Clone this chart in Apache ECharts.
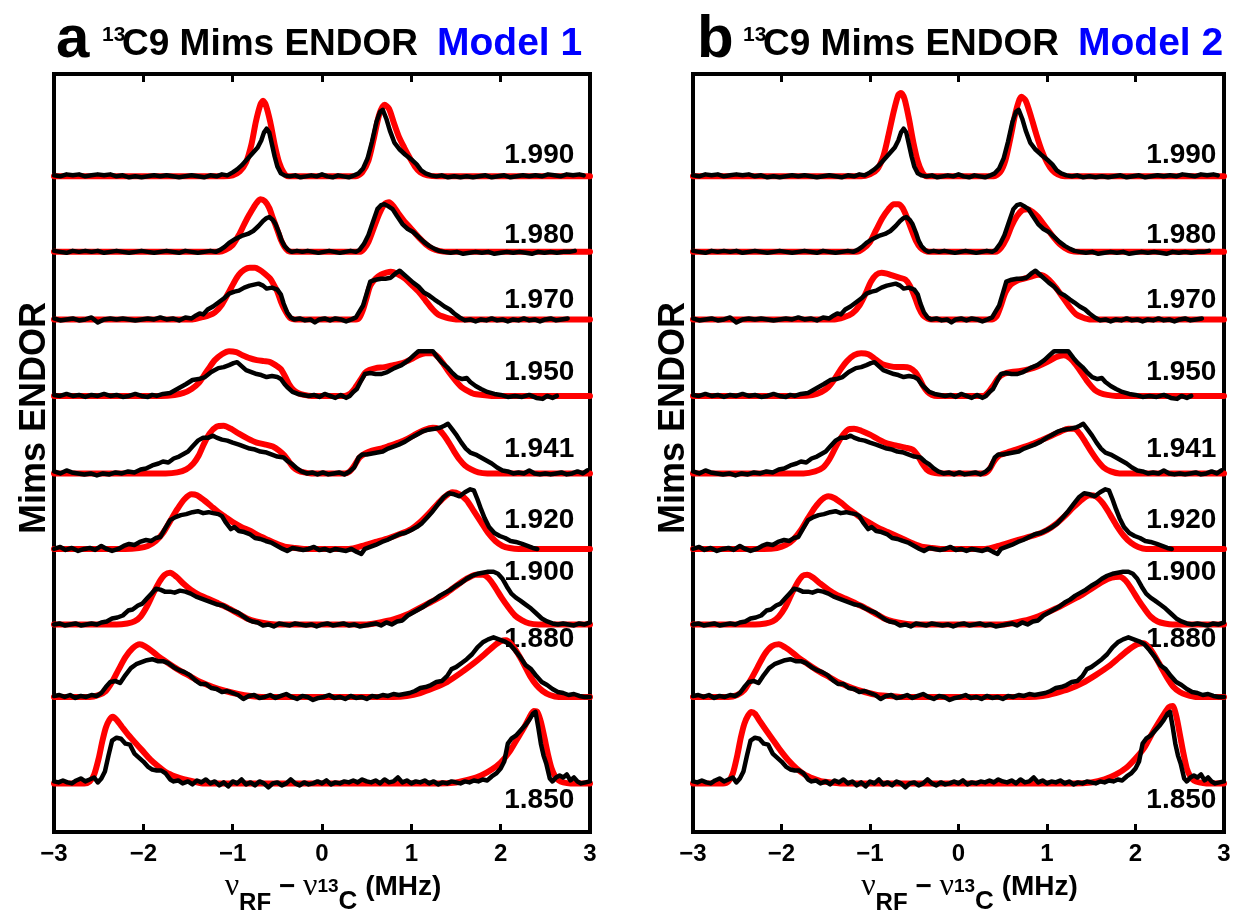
<!DOCTYPE html>
<html>
<head>
<meta charset="utf-8">
<script src="https://cdn.jsdelivr.net/npm/echarts/dist/echarts.min.js"></script>
<style>
  html, body { margin: 0; padding: 0; background: #fff; }
  #chart { width: 1238px; height: 920px; }
</style>
</head>
<body>
<div id="chart"></div>
<script>
// ---------------- DATA ----------------
const gValues = ['1.990', '1.980', '1.970', '1.950', '1.941', '1.920', '1.900', '1.880', '1.850'];
const traceBaselines = [660, 584, 516, 439, 361, 285, 209, 136, 49];
const xTicks = [-3, -2, -1, 0, 1, 2, 3];

// Experimental (black) spectra: [nu, intensity]
const exp1990 = [[-3,1],[-2.93,0],[-2.86,2],[-2.79,1],[-2.72,2],[-2.65,0],[-2.58,1],[-2.51,2],[-2.44,1],[-2.37,2],[-2.3,0],[-2.23,1],[-2.16,-1],[-2.09,0],[-2.02,-1],[-1.95,0],[-1.88,1],[-1.81,0],[-1.74,1],[-1.67,0],[-1.6,-1],[-1.53,0],[-1.46,1],[-1.39,0],[-1.32,-1],[-1.25,1],[-1.18,0],[-1.12,2],[-1.06,1],[-1.0,4],[-0.95,7],[-0.9,11],[-0.85,16],[-0.8,21],[-0.76,25],[-0.72,29],[-0.68,36],[-0.65,44],[-0.62,48],[-0.59,44],[-0.56,32],[-0.53,20],[-0.5,10],[-0.46,3],[-0.42,1],[-0.36,0],[-0.3,1],[-0.24,-1],[-0.18,0],[-0.12,1],[-0.06,0],[0,2],[0.06,0],[0.12,-1],[0.18,1],[0.24,0],[0.3,-1],[0.36,1],[0.41,3],[0.46,8],[0.51,18],[0.56,35],[0.61,55],[0.65,65],[0.68,67],[0.72,58],[0.76,46],[0.81,34],[0.87,27],[0.93,22],[1.0,17],[1.06,12],[1.11,6],[1.16,3],[1.22,1],[1.28,0],[1.34,1],[1.41,-1],[1.48,0],[1.55,-1],[1.62,0],[1.69,-1],[1.76,0],[1.83,1],[1.9,-1],[1.97,0],[2.04,1],[2.11,-1],[2.18,0],[2.25,1],[2.32,0],[2.39,1],[2.46,0],[2.53,2],[2.6,1],[2.67,0],[2.74,2],[2.81,1],[2.88,2],[2.93,1]];
const exp1980 = [[-3,1],[-2.93,0],[-2.86,-1],[-2.79,1],[-2.72,0],[-2.65,1],[-2.58,0],[-2.51,1],[-2.44,-1],[-2.37,0],[-2.3,1],[-2.23,0],[-2.16,-1],[-2.09,0],[-2.02,1],[-1.95,0],[-1.88,-1],[-1.81,0],[-1.74,1],[-1.67,0],[-1.6,-1],[-1.53,1],[-1.46,0],[-1.39,-1],[-1.32,0],[-1.25,1],[-1.19,0],[-1.14,2],[-1.09,5],[-1.04,9],[-0.97,13],[-0.9,16],[-0.83,18],[-0.77,21],[-0.71,26],[-0.66,31],[-0.62,34],[-0.59,35],[-0.55,32],[-0.52,28],[-0.48,19],[-0.45,11],[-0.42,6],[-0.38,2],[-0.34,0],[-0.28,1],[-0.22,0],[-0.16,1],[-0.1,0],[-0.04,-1],[0.02,0],[0.08,1],[0.14,0],[0.2,-1],[0.26,0],[0.32,1],[0.38,0],[0.42,2],[0.47,8],[0.52,17],[0.57,30],[0.62,43],[0.66,47],[0.7,48],[0.74,46],[0.79,43],[0.84,36],[0.9,28],[0.96,23],[1.02,20],[1.08,15],[1.14,10],[1.2,6],[1.26,3],[1.31,1],[1.37,0],[1.44,-1],[1.51,0],[1.58,-2],[1.65,-1],[1.72,0],[1.79,-1],[1.86,0],[1.93,-2],[2.0,-1],[2.07,0],[2.14,-1],[2.21,0],[2.28,-1],[2.35,-2],[2.42,0],[2.49,-1],[2.56,0],[2.63,-1],[2.7,0],[2.77,0],[2.83,1]];
const exp1970 = [[-3,1],[-2.93,-1],[-2.86,0],[-2.79,1],[-2.72,-1],[-2.65,0],[-2.58,2],[-2.51,-3],[-2.44,0],[-2.37,1],[-2.3,0],[-2.23,1],[-2.16,0],[-2.09,-1],[-2.02,0],[-1.95,1],[-1.88,0],[-1.81,2],[-1.74,0],[-1.67,1],[-1.6,-1],[-1.53,2],[-1.46,1],[-1.41,4],[-1.37,6],[-1.33,5],[-1.28,10],[-1.22,13],[-1.16,17],[-1.1,21],[-1.04,26],[-0.98,28],[-0.93,29],[-0.87,32],[-0.81,34],[-0.76,35],[-0.71,36],[-0.66,34],[-0.62,31],[-0.56,32],[-0.5,30],[-0.46,25],[-0.43,16],[-0.39,7],[-0.35,2],[-0.31,0],[-0.25,1],[-0.19,-1],[-0.13,0],[-0.08,-3],[-0.03,0],[0.03,1],[0.09,-1],[0.15,1],[0.21,0],[0.27,-2],[0.33,0],[0.38,2],[0.42,8],[0.46,14],[0.5,26],[0.54,38],[0.6,40],[0.66,41],[0.71,41],[0.77,42],[0.82,46],[0.87,49],[0.92,45],[0.97,41],[1.02,37],[1.08,33],[1.14,27],[1.2,24],[1.26,20],[1.31,17],[1.37,13],[1.43,10],[1.48,6],[1.54,2],[1.6,-1],[1.66,0],[1.72,-2],[1.78,0],[1.84,-1],[1.9,1],[1.96,-1],[2.02,0],[2.08,-2],[2.14,0],[2.2,-1],[2.26,1],[2.32,-1],[2.38,0],[2.44,-2],[2.5,0],[2.56,1],[2.62,-1],[2.68,0],[2.75,1]];
const exp1950 = [[-3,1],[-2.93,0],[-2.86,2],[-2.79,0],[-2.72,1],[-2.65,-1],[-2.58,1],[-2.51,0],[-2.44,2],[-2.37,0],[-2.3,1],[-2.23,-1],[-2.16,0],[-2.09,2],[-2.02,0],[-1.95,-1],[-1.9,1],[-1.85,0],[-1.78,2],[-1.7,3],[-1.64,6],[-1.58,9],[-1.52,12],[-1.45,16],[-1.38,17],[-1.31,19],[-1.24,24],[-1.16,28],[-1.1,29],[-1.04,31],[-0.99,33],[-0.95,34],[-0.9,30],[-0.85,26],[-0.79,24],[-0.73,22],[-0.68,21],[-0.62,19],[-0.56,20],[-0.5,19],[-0.46,17],[-0.42,12],[-0.39,9],[-0.33,4],[-0.27,2],[-0.21,1],[-0.15,0],[-0.09,1],[-0.03,-1],[0.03,2],[0.09,0],[0.15,-2],[0.21,1],[0.27,-2],[0.31,0],[0.35,4],[0.39,7],[0.43,14],[0.48,22],[0.54,23],[0.6,22],[0.66,22],[0.73,24],[0.81,28],[0.89,31],[0.97,36],[1.03,41],[1.08,45],[1.16,45],[1.24,45],[1.3,38],[1.35,33],[1.4,29],[1.45,24],[1.51,19],[1.57,17],[1.62,18],[1.66,14],[1.72,10],[1.78,7],[1.85,4],[1.93,2],[2.0,1],[2.08,-1],[2.16,0],[2.24,-1],[2.32,1],[2.4,-2],[2.47,-3],[2.52,0],[2.58,-2],[2.63,0]];
const exp1941 = [[-3,2],[-2.93,0],[-2.86,3],[-2.8,1],[-2.73,0],[-2.66,-1],[-2.59,0],[-2.52,-2],[-2.45,0],[-2.38,-1],[-2.31,1],[-2.24,0],[-2.17,2],[-2.1,1],[-2.03,4],[-1.97,5],[-1.9,8],[-1.83,10],[-1.78,12],[-1.72,11],[-1.66,15],[-1.6,17],[-1.54,20],[-1.5,22],[-1.45,27],[-1.39,33],[-1.33,36],[-1.27,36],[-1.22,38],[-1.18,36],[-1.12,34],[-1.06,33],[-1.0,31],[-0.93,29],[-0.87,27],[-0.81,25],[-0.75,24],[-0.69,22],[-0.62,21],[-0.56,19],[-0.5,17],[-0.43,16],[-0.38,12],[-0.33,9],[-0.28,5],[-0.23,2],[-0.17,0],[-0.11,1],[-0.05,-1],[0.01,1],[0.07,-1],[0.13,0],[0.19,1],[0.25,-1],[0.31,2],[0.36,6],[0.41,16],[0.45,19],[0.5,19],[0.56,20],[0.62,21],[0.68,22],[0.74,25],[0.8,27],[0.86,29],[0.93,32],[1.0,36],[1.06,39],[1.12,42],[1.19,44],[1.26,45],[1.32,46],[1.37,48],[1.41,50],[1.46,44],[1.51,38],[1.56,31],[1.61,25],[1.66,21],[1.72,19],[1.78,16],[1.84,13],[1.9,10],[1.96,6],[2.02,3],[2.08,2],[2.14,0],[2.2,1],[2.26,0],[2.32,3],[2.38,0],[2.44,-1],[2.5,0],[2.56,-1],[2.62,0],[2.68,1],[2.74,-1],[2.8,0],[2.86,2],[2.92,0],[2.97,3]];
const exp1920 = [[-3,0],[-2.93,2],[-2.87,-1],[-2.8,1],[-2.73,-2],[-2.66,0],[-2.6,1],[-2.54,-1],[-2.47,3],[-2.41,0],[-2.35,-2],[-2.28,0],[-2.22,3],[-2.16,5],[-2.1,4],[-2.04,7],[-1.97,9],[-1.91,8],[-1.86,11],[-1.81,12],[-1.76,20],[-1.7,29],[-1.64,32],[-1.58,34],[-1.52,35],[-1.45,37],[-1.39,38],[-1.33,36],[-1.27,37],[-1.22,36],[-1.16,35],[-1.12,33],[-1.08,27],[-1.02,20],[-0.98,22],[-0.93,18],[-0.87,17],[-0.81,15],[-0.75,11],[-0.69,10],[-0.63,8],[-0.56,6],[-0.5,3],[-0.44,0],[-0.39,-2],[-0.33,1],[-0.27,0],[-0.21,-1],[-0.15,0],[-0.09,2],[-0.03,-1],[0.03,0],[0.09,-2],[0.15,0],[0.21,-1],[0.27,-2],[0.33,0],[0.39,-3],[0.44,-5],[0.48,0],[0.54,2],[0.6,4],[0.67,7],[0.73,9],[0.8,12],[0.87,15],[0.93,16],[1.0,19],[1.06,22],[1.12,26],[1.18,32],[1.24,38],[1.3,45],[1.36,52],[1.42,56],[1.48,55],[1.54,53],[1.6,57],[1.66,60],[1.7,59],[1.74,50],[1.78,40],[1.82,31],[1.87,22],[1.93,16],[1.99,13],[2.05,11],[2.11,8],[2.17,7],[2.24,5],[2.3,3],[2.36,1],[2.41,0]];
const exp1900 = [[-3,0],[-2.94,1],[-2.88,-1],[-2.82,0],[-2.76,1],[-2.7,-1],[-2.64,0],[-2.58,1],[-2.52,0],[-2.47,2],[-2.41,3],[-2.35,6],[-2.29,7],[-2.23,9],[-2.17,14],[-2.12,15],[-2.06,19],[-2.01,21],[-1.96,26],[-1.91,31],[-1.86,36],[-1.81,35],[-1.76,33],[-1.7,33],[-1.65,32],[-1.59,34],[-1.53,33],[-1.47,31],[-1.41,28],[-1.35,26],[-1.29,24],[-1.23,22],[-1.17,20],[-1.11,19],[-1.05,16],[-1.0,14],[-0.94,12],[-0.88,8],[-0.83,5],[-0.78,3],[-0.72,2],[-0.66,-1],[-0.6,0],[-0.54,-2],[-0.48,1],[-0.42,0],[-0.36,-1],[-0.3,1],[-0.24,0],[-0.18,-1],[-0.12,0],[-0.06,-2],[0,0],[0.06,1],[0.12,-1],[0.18,0],[0.24,1],[0.3,-1],[0.36,0],[0.42,-2],[0.48,-1],[0.54,0],[0.6,1],[0.66,-1],[0.72,2],[0.78,0],[0.84,3],[0.9,4],[0.96,9],[1.02,12],[1.08,15],[1.14,18],[1.2,22],[1.26,25],[1.32,29],[1.38,32],[1.44,35],[1.5,39],[1.56,42],[1.62,46],[1.68,49],[1.74,51],[1.8,52],[1.86,53],[1.92,53],[1.97,51],[2.02,46],[2.07,38],[2.12,31],[2.17,27],[2.22,24],[2.28,20],[2.34,16],[2.4,11],[2.46,6],[2.52,3],[2.58,1],[2.64,0],[2.7,1],[2.76,0],[2.82,-1],[2.88,1],[2.94,0],[3.0,2]];
const exp1880 = [[-3,1],[-2.94,2],[-2.88,0],[-2.82,2],[-2.76,-1],[-2.7,1],[-2.64,0],[-2.58,2],[-2.52,1],[-2.47,4],[-2.42,10],[-2.37,15],[-2.31,16],[-2.26,14],[-2.2,22],[-2.14,29],[-2.08,33],[-2.02,35],[-1.96,37],[-1.9,38],[-1.84,36],[-1.78,36],[-1.72,34],[-1.66,30],[-1.6,27],[-1.54,25],[-1.48,22],[-1.42,17],[-1.36,13],[-1.3,13],[-1.24,9],[-1.18,8],[-1.12,5],[-1.06,6],[-1.0,4],[-0.94,2],[-0.88,-2],[-0.82,1],[-0.76,2],[-0.7,-1],[-0.64,0],[-0.58,2],[-0.52,-1],[-0.46,1],[-0.4,3],[-0.34,0],[-0.28,-2],[-0.22,1],[-0.16,0],[-0.1,-3],[-0.04,-1],[0.02,0],[0.08,2],[0.14,-1],[0.2,0],[0.26,-2],[0.32,1],[0.38,-1],[0.44,0],[0.5,-2],[0.56,1],[0.62,0],[0.68,2],[0.74,1],[0.8,3],[0.86,2],[0.92,3],[0.98,4],[1.04,6],[1.1,9],[1.16,10],[1.22,12],[1.28,15],[1.34,16],[1.4,21],[1.45,28],[1.5,30],[1.56,34],[1.62,38],[1.68,43],[1.74,50],[1.8,55],[1.86,58],[1.92,60],[1.98,58],[2.04,56],[2.1,53],[2.16,47],[2.22,40],[2.28,32],[2.34,28],[2.4,21],[2.46,15],[2.52,12],[2.58,8],[2.64,5],[2.7,4],[2.76,2],[2.82,3],[2.88,1],[2.94,0],[3.0,0]];
const exp1850 = [[-3,2],[-2.95,1],[-2.9,3],[-2.85,1],[-2.8,0],[-2.75,3],[-2.7,5],[-2.65,2],[-2.6,4],[-2.55,6],[-2.51,1],[-2.47,5],[-2.43,12],[-2.39,28],[-2.35,43],[-2.3,46],[-2.25,45],[-2.2,40],[-2.15,39],[-2.1,30],[-2.05,26],[-2.0,22],[-1.95,17],[-1.9,14],[-1.85,13],[-1.8,13],[-1.75,10],[-1.7,4],[-1.66,2],[-1.61,3],[-1.56,0],[-1.5,2],[-1.45,-1],[-1.4,3],[-1.35,1],[-1.3,4],[-1.25,0],[-1.2,2],[-1.15,-2],[-1.1,1],[-1.05,-3],[-1.0,2],[-0.95,0],[-0.9,4],[-0.85,-1],[-0.8,1],[-0.75,-2],[-0.7,2],[-0.65,0],[-0.6,-4],[-0.55,0],[-0.5,1],[-0.45,-2],[-0.4,0],[-0.35,4],[-0.3,0],[-0.25,-2],[-0.2,1],[-0.15,-1],[-0.1,0],[-0.05,2],[0,0],[0.05,3],[0.1,-1],[0.15,1],[0.2,0],[0.25,2],[0.3,1],[0.35,3],[0.4,1],[0.45,4],[0.5,2],[0.55,1],[0.6,3],[0.65,0],[0.7,4],[0.75,1],[0.8,2],[0.85,6],[0.9,1],[0.95,3],[1.0,0],[1.05,2],[1.1,1],[1.15,3],[1.2,0],[1.25,2],[1.3,-1],[1.35,1],[1.4,0],[1.45,2],[1.5,1],[1.55,0],[1.6,2],[1.65,1],[1.7,3],[1.75,2],[1.8,4],[1.85,3],[1.9,7],[1.95,10],[2.0,15],[2.04,22],[2.08,40],[2.12,45],[2.17,48],[2.22,53],[2.27,58],[2.32,64],[2.36,70],[2.39,72],[2.42,57],[2.45,40],[2.48,28],[2.51,20],[2.55,5],[2.58,2],[2.62,6],[2.66,8],[2.7,6],[2.74,9],[2.78,3],[2.82,6],[2.86,2],[2.9,0],[2.95,1],[3.0,2]];

// Simulations, Model 1 (red, panel a)
const simA1990 = [[-3,0],[-1.1,0],[-1.0,1],[-0.92,5],[-0.85,14],[-0.79,32],[-0.74,55],[-0.69,72],[-0.66,76],[-0.63,72],[-0.58,55],[-0.53,32],[-0.48,14],[-0.43,4],[-0.38,0],[0.38,0],[0.45,4],[0.52,16],[0.58,38],[0.64,62],[0.7,72],[0.75,68],[0.8,55],[0.86,40],[0.92,29],[0.98,19],[1.04,10],[1.1,4],[1.18,1],[1.3,0],[3,0]];
const simA1980 = [[-3,0],[-1.15,0],[-1.08,2],[-1.0,7],[-0.93,17],[-0.87,28],[-0.81,38],[-0.75,47],[-0.69,53],[-0.64,51],[-0.59,44],[-0.55,34],[-0.5,22],[-0.46,12],[-0.42,5],[-0.38,1],[-0.33,0],[0.42,0],[0.47,3],[0.52,10],[0.58,24],[0.64,38],[0.7,48],[0.75,50],[0.8,46],[0.86,38],[0.92,31],[0.98,25],[1.04,19],[1.1,13],[1.17,7],[1.24,3],[1.31,1],[1.4,0],[3,0]];
const simA1970 = [[-3,0],[-1.45,0],[-1.35,2],[-1.27,4],[-1.2,7],[-1.12,15],[-1.04,28],[-0.98,38],[-0.93,45],[-0.87,50],[-0.81,52],[-0.75,52],[-0.7,50],[-0.64,46],[-0.58,41],[-0.54,35],[-0.5,28],[-0.46,18],[-0.42,10],[-0.38,4],[-0.35,1],[-0.3,0],[0.38,0],[0.42,2],[0.46,10],[0.5,22],[0.54,34],[0.6,41],[0.66,45],[0.72,47],[0.77,48],[0.84,46],[0.93,41],[1.0,35],[1.08,28],[1.16,19],[1.24,10],[1.3,5],[1.35,3],[1.42,1],[1.5,0],[3,0]];
const simA1950 = [[-3,0],[-1.8,0],[-1.65,1],[-1.55,3],[-1.46,7],[-1.38,13],[-1.31,22],[-1.25,30],[-1.2,36],[-1.12,42],[-1.04,45],[-0.96,44],[-0.89,41],[-0.81,38],[-0.73,36],[-0.65,35],[-0.58,34],[-0.52,31],[-0.46,27],[-0.41,19],[-0.37,12],[-0.32,6],[-0.27,3],[-0.2,1],[-0.12,0],[0.25,0],[0.31,2],[0.37,8],[0.43,16],[0.48,23],[0.53,26],[0.6,28],[0.7,29],[0.8,31],[0.9,33],[1.0,37],[1.08,41],[1.16,43],[1.24,43],[1.3,39],[1.36,32],[1.42,24],[1.49,16],[1.56,9],[1.63,5],[1.7,2],[1.8,1],[1.9,0],[3,0]];
const simA1941 = [[-3,0],[-1.75,0],[-1.62,1],[-1.52,4],[-1.44,10],[-1.38,18],[-1.32,30],[-1.26,40],[-1.18,47],[-1.1,48],[-1.02,45],[-0.93,40],[-0.83,35],[-0.73,31],[-0.63,29],[-0.55,27],[-0.48,23],[-0.42,18],[-0.37,12],[-0.32,6],[-0.27,3],[-0.2,1],[-0.12,0],[0.25,0],[0.31,2],[0.37,9],[0.42,16],[0.48,20],[0.56,23],[0.66,25],[0.76,28],[0.86,31],[0.96,35],[1.06,40],[1.15,44],[1.24,46],[1.3,45],[1.36,39],[1.42,31],[1.48,22],[1.54,14],[1.6,8],[1.67,4],[1.75,1],[1.85,0],[3,0]];
const simA1920 = [[-3,0],[-2.2,0],[-2.05,1],[-1.95,3],[-1.86,8],[-1.78,16],[-1.7,28],[-1.62,40],[-1.54,50],[-1.46,55],[-1.4,54],[-1.32,49],[-1.24,43],[-1.16,37],[-1.08,32],[-1.0,27],[-0.9,22],[-0.8,18],[-0.7,13],[-0.6,9],[-0.5,5],[-0.4,2],[-0.3,1],[-0.2,0],[0.3,0],[0.45,3],[0.6,7],[0.75,11],[0.9,16],[1.0,20],[1.1,27],[1.2,36],[1.3,46],[1.38,53],[1.46,57],[1.54,55],[1.62,49],[1.7,38],[1.78,27],[1.86,16],[1.94,8],[2.02,3],[2.1,1],[2.2,0],[3,0]];
const simA1900 = [[-3,0],[-2.3,0],[-2.18,1],[-2.1,3],[-2.03,8],[-1.96,18],[-1.89,31],[-1.82,43],[-1.76,50],[-1.7,52],[-1.63,48],[-1.55,41],[-1.47,35],[-1.38,30],[-1.28,26],[-1.18,22],[-1.06,17],[-0.94,11],[-0.84,6],[-0.74,3],[-0.62,1],[-0.5,0],[0.5,0],[0.65,2],[0.8,5],[0.95,10],[1.1,17],[1.25,24],[1.4,32],[1.52,40],[1.62,46],[1.72,50],[1.8,50],[1.87,46],[1.94,37],[2.01,27],[2.08,18],[2.16,9],[2.24,4],[2.32,1],[2.42,0],[3,0]];
const simA1880 = [[-3,0],[-2.6,0],[-2.5,2],[-2.42,6],[-2.35,15],[-2.28,27],[-2.2,40],[-2.12,49],[-2.04,53],[-1.98,51],[-1.9,46],[-1.82,40],[-1.72,34],[-1.6,27],[-1.48,21],[-1.36,15],[-1.22,10],[-1.08,6],[-0.94,3],[-0.8,1],[-0.65,0],[0.8,0],[0.95,1],[1.1,4],[1.25,9],[1.4,15],[1.55,24],[1.7,34],[1.82,43],[1.92,51],[2.0,56],[2.06,57],[2.12,53],[2.19,44],[2.26,33],[2.33,21],[2.4,12],[2.47,6],[2.55,2],[2.65,0],[3,0]];
const simA1850 = [[-3,0],[-2.66,0],[-2.6,2],[-2.55,9],[-2.5,25],[-2.46,42],[-2.42,56],[-2.38,64],[-2.34,67],[-2.3,64],[-2.24,57],[-2.17,49],[-2.09,41],[-2.01,33],[-1.92,24],[-1.83,17],[-1.74,11],[-1.64,7],[-1.54,4],[-1.44,2],[-1.32,0],[1.3,0],[1.5,1],[1.65,4],[1.78,8],[1.9,14],[2.0,21],[2.1,32],[2.18,44],[2.26,56],[2.32,66],[2.37,73],[2.41,72],[2.45,62],[2.49,46],[2.53,29],[2.57,15],[2.61,7],[2.65,3],[2.7,1],[2.78,0],[3,0]];

// Simulations, Model 2 (red, panel b)
const simB1990 = [[-3,0],[-1.1,0],[-1.0,2],[-0.92,7],[-0.85,20],[-0.79,42],[-0.73,66],[-0.68,82],[-0.65,84],[-0.61,78],[-0.56,58],[-0.51,34],[-0.46,15],[-0.41,4],[-0.36,0],[0.4,0],[0.47,4],[0.53,16],[0.59,40],[0.65,66],[0.71,80],[0.76,76],[0.82,60],[0.88,42],[0.94,26],[1.0,14],[1.06,6],[1.12,2],[1.2,0],[3,0]];
const simB1980 = [[-3,0],[-1.15,0],[-1.08,3],[-1.0,10],[-0.93,22],[-0.86,34],[-0.79,43],[-0.73,48],[-0.68,48],[-0.63,44],[-0.58,34],[-0.53,22],[-0.48,11],[-0.43,4],[-0.38,1],[-0.33,0],[0.42,0],[0.48,4],[0.54,13],[0.6,26],[0.66,36],[0.72,42],[0.78,43],[0.84,40],[0.9,35],[0.96,28],[1.02,21],[1.08,14],[1.14,8],[1.2,4],[1.27,1],[1.35,0],[3,0]];
const simB1970 = [[-3,0],[-1.4,0],[-1.3,2],[-1.2,6],[-1.12,14],[-1.05,26],[-0.99,38],[-0.93,45],[-0.87,47],[-0.81,46],[-0.74,44],[-0.67,42],[-0.6,40],[-0.55,34],[-0.5,24],[-0.45,12],[-0.4,4],[-0.35,1],[-0.3,0],[0.38,0],[0.43,3],[0.48,14],[0.53,27],[0.59,35],[0.66,39],[0.74,41],[0.82,43],[0.9,45],[0.96,44],[1.02,40],[1.1,32],[1.18,22],[1.26,12],[1.33,5],[1.4,2],[1.48,0],[3,0]];
const simB1950 = [[-3,0],[-1.8,0],[-1.65,1],[-1.55,4],[-1.47,9],[-1.4,17],[-1.33,27],[-1.26,35],[-1.18,41],[-1.1,43],[-1.02,42],[-0.94,37],[-0.86,32],[-0.78,30],[-0.7,29],[-0.62,29],[-0.55,28],[-0.49,24],[-0.44,17],[-0.4,10],[-0.35,4],[-0.3,1],[-0.24,0],[0.28,0],[0.33,3],[0.39,10],[0.45,18],[0.51,22],[0.6,24],[0.7,25],[0.8,27],[0.9,30],[1.0,34],[1.1,39],[1.19,41],[1.26,38],[1.33,31],[1.4,22],[1.47,13],[1.54,6],[1.6,3],[1.68,1],[1.78,0],[3,0]];
const simB1941 = [[-3,0],[-1.75,0],[-1.62,2],[-1.53,6],[-1.46,14],[-1.39,26],[-1.32,37],[-1.25,44],[-1.18,45],[-1.1,43],[-1.0,39],[-0.9,34],[-0.8,30],[-0.7,28],[-0.6,26],[-0.52,24],[-0.46,18],[-0.41,10],[-0.36,4],[-0.3,1],[-0.22,0],[0.28,0],[0.34,3],[0.4,12],[0.46,18],[0.55,21],[0.65,24],[0.75,27],[0.85,30],[0.95,34],[1.05,38],[1.15,42],[1.24,45],[1.31,45],[1.37,40],[1.43,32],[1.5,22],[1.57,13],[1.64,6],[1.72,2],[1.82,0],[3,0]];
const simB1920 = [[-3,0],[-2.2,0],[-2.05,1],[-1.95,4],[-1.86,10],[-1.78,19],[-1.7,31],[-1.62,42],[-1.54,50],[-1.47,53],[-1.4,51],[-1.32,46],[-1.24,40],[-1.16,35],[-1.08,30],[-1.0,26],[-0.9,21],[-0.8,17],[-0.7,13],[-0.6,9],[-0.5,5],[-0.4,2],[-0.3,1],[-0.2,0],[0.3,0],[0.45,3],[0.6,7],[0.75,11],[0.9,15],[1.0,19],[1.1,25],[1.2,33],[1.3,42],[1.4,50],[1.48,54],[1.55,53],[1.63,46],[1.71,35],[1.79,23],[1.87,13],[1.95,6],[2.03,2],[2.12,0],[3,0]];
const simB1900 = [[-3,0],[-2.3,0],[-2.18,1],[-2.1,3],[-2.03,8],[-1.96,17],[-1.89,30],[-1.82,42],[-1.76,49],[-1.71,50],[-1.64,47],[-1.56,41],[-1.47,35],[-1.38,30],[-1.28,26],[-1.18,22],[-1.06,17],[-0.94,11],[-0.84,6],[-0.74,3],[-0.62,1],[-0.5,0],[0.5,0],[0.65,2],[0.8,5],[0.95,10],[1.1,16],[1.25,23],[1.4,30],[1.52,37],[1.63,43],[1.73,47],[1.82,48],[1.89,44],[1.96,35],[2.03,25],[2.1,16],[2.17,8],[2.25,3],[2.33,1],[2.42,0],[3,0]];
const simB1880 = [[-3,0],[-2.6,0],[-2.5,2],[-2.42,7],[-2.35,17],[-2.27,30],[-2.19,43],[-2.11,51],[-2.03,53],[-1.96,50],[-1.88,45],[-1.8,39],[-1.7,33],[-1.58,26],[-1.46,20],[-1.34,14],[-1.2,9],[-1.06,5],[-0.92,2],[-0.78,1],[-0.65,0],[0.8,0],[0.95,1],[1.1,4],[1.25,8],[1.4,14],[1.55,22],[1.7,31],[1.82,40],[1.93,48],[2.02,53],[2.09,54],[2.15,50],[2.22,41],[2.29,30],[2.36,19],[2.43,10],[2.5,5],[2.58,2],[2.68,0],[3,0]];
const simB1850 = [[-3,0],[-2.66,0],[-2.6,2],[-2.55,10],[-2.5,28],[-2.46,46],[-2.42,60],[-2.38,68],[-2.34,72],[-2.3,70],[-2.24,62],[-2.17,53],[-2.09,43],[-2.01,33],[-1.92,23],[-1.83,15],[-1.74,9],[-1.64,5],[-1.54,2],[-1.44,1],[-1.32,0],[1.3,0],[1.5,1],[1.65,4],[1.78,9],[1.9,16],[2.0,25],[2.1,36],[2.18,49],[2.26,61],[2.33,71],[2.38,77],[2.42,78],[2.46,68],[2.5,50],[2.54,31],[2.58,15],[2.62,7],[2.66,3],[2.72,1],[2.8,0],[3,0]];

const expList = [exp1990, exp1980, exp1970, exp1950, exp1941, exp1920, exp1900, exp1880, exp1850];
const simListA = [simA1990, simA1980, simA1970, simA1950, simA1941, simA1920, simA1900, simA1880, simA1850];
const simListB = [simB1990, simB1980, simB1970, simB1950, simB1941, simB1920, simB1900, simB1880, simB1850];

// ---------------- LAYOUT / STYLE ----------------
const Y_MAX = 763;
const labelLift = [21, 17, 19, 24, 24, 29, 52, 58, -17];
const labelAnchorX = [2.83, 2.92];
const SANS = "'Liberation Sans', Arial, sans-serif";
const RED = '#ff0000', BLACK = '#000000', BLUE = '#0000ff';

const chart = echarts.init(document.getElementById('chart'), null, { renderer: 'canvas' });

const grids = [
  { left: 54, top: 74, width: 536, height: 763 },
  { left: 693, top: 74, width: 531, height: 763 }
];

const axisNameRich = {
  nu: { fontFamily: "'Liberation Serif', 'DejaVu Serif', serif", fontSize: 32, lineHeight: 56, verticalAlign: 'middle', color: BLACK },
  sub: { fontFamily: SANS, fontWeight: 'bold', fontSize: 24, lineHeight: 16, verticalAlign: 'bottom', color: BLACK },
  op: { fontFamily: SANS, fontWeight: 'bold', fontSize: 28, lineHeight: 56, verticalAlign: 'middle', color: BLACK },
  iso: { fontFamily: SANS, fontWeight: 'bold', fontSize: 19, lineHeight: 56, verticalAlign: 'middle', color: BLACK },
  el: { fontFamily: SANS, fontWeight: 'bold', fontSize: 26, lineHeight: 16, verticalAlign: 'bottom', color: BLACK },
  mhz: { fontFamily: SANS, fontWeight: 'bold', fontSize: 28, lineHeight: 56, verticalAlign: 'middle', color: BLACK }
};
const axisNameText = '{nu|ν}{sub|RF}{op| − }{nu|ν}{iso|13}{el|C}{mhz| (MHz)}';

const xAxes = [], yAxes = [];
grids.forEach((g, p) => {
  xAxes.push({
    type: 'value', gridIndex: p, position: 'bottom', min: xTicks[0], max: xTicks[xTicks.length - 1], interval: 1,
    axisLine: { show: true, onZero: false, lineStyle: { color: BLACK, width: 4, cap: 'square' } },
    axisTick: { show: true, inside: true, length: 8, lineStyle: { color: BLACK, width: 3 } },
    axisLabel: { show: true, margin: 10, color: BLACK, fontFamily: SANS, fontWeight: 'bold', fontSize: 24,
      formatter: v => (v < 0 ? '\u2212' + Math.abs(v) : String(v)) },
    splitLine: { show: false },
    name: axisNameText, nameLocation: 'middle', nameGap: 23,
    nameTextStyle: { rich: axisNameRich, padding: [0, 0, 0, 22] }
  });
  xAxes.push({
    type: 'value', gridIndex: p, position: 'top', min: xTicks[0], max: xTicks[xTicks.length - 1], interval: 1,
    axisLine: { show: true, onZero: false, lineStyle: { color: BLACK, width: 4, cap: 'square' } },
    axisTick: { show: true, inside: true, length: 8, lineStyle: { color: BLACK, width: 3 } },
    axisLabel: { show: false }, splitLine: { show: false }
  });
  yAxes.push({
    type: 'value', gridIndex: p, position: 'left', min: 0, max: Y_MAX,
    axisLine: { show: true, onZero: false, lineStyle: { color: BLACK, width: 4, cap: 'square' } },
    axisTick: { show: false }, axisLabel: { show: false }, splitLine: { show: false },
    name: 'Mims ENDOR', nameLocation: 'middle', nameRotate: 90, nameGap: 1,
    nameTextStyle: { color: BLACK, fontFamily: SANS, fontWeight: 'bold', fontSize: 36, padding: [0, 0, 0, 70] }
  });
  yAxes.push({
    type: 'value', gridIndex: p, position: 'right', min: 0, max: Y_MAX,
    axisLine: { show: true, onZero: false, lineStyle: { color: BLACK, width: 4, cap: 'square' } },
    axisTick: { show: false }, axisLabel: { show: false }, splitLine: { show: false }
  });
});

const series = [];
[simListA, simListB].forEach((sims, p) => {
  sims.forEach((sim, i) => {
    series.push({
      type: 'line', xAxisIndex: p * 2, yAxisIndex: p * 2, name: 'sim ' + gValues[i],
      data: sim.map(d => [d[0], d[1] + traceBaselines[i]]),
      showSymbol: false, symbol: 'none', smooth: 0.25, z: 2, silent: true,
      lineStyle: { color: RED, width: 6, cap: 'round', join: 'round' }
    });
  });
  expList.forEach((ex, i) => {
    series.push({
      type: 'line', xAxisIndex: p * 2, yAxisIndex: p * 2, name: 'exp ' + gValues[i],
      data: ex.map(d => [d[0], d[1] + traceBaselines[i]]),
      showSymbol: false, symbol: 'none', z: 3, silent: true,
      lineStyle: { color: BLACK, width: 4.5, cap: 'round', join: 'round' }
    });
  });
  series.push({
    type: 'scatter', xAxisIndex: p * 2, yAxisIndex: p * 2, z: 1, silent: true,
    symbolSize: 1, itemStyle: { color: '#ffffff', opacity: 1 },
    data: gValues.map((g, i) => ({ value: [labelAnchorX[p], traceBaselines[i] + labelLift[i]], g })),
    label: { show: true, position: 'left', distance: 0, formatter: prm => prm.data.g, opacity: 1,
      color: '#000000', textBorderWidth: 0, fontFamily: SANS, fontWeight: 'bold', fontSize: 28 }
  });
});

function titleTexts(x0, letter, model) {
  return [
    { type: 'text', x: x0, y: 40, style: { text: letter, fill: BLACK, font: "bold 60px " + SANS, align: 'left', verticalAlign: 'middle' } },
    { type: 'text', x: x0 + 46, y: 35, style: { text: '13', fill: BLACK, font: "bold 21px " + SANS, align: 'left', verticalAlign: 'middle' } },
    { type: 'text', x: x0 + 66, y: 45, style: { text: 'C9 Mims ENDOR', fill: BLACK, font: "bold 37px " + SANS, align: 'left', verticalAlign: 'middle' } },
    { type: 'text', x: x0 + 381, y: 44, style: { text: model, fill: BLUE, font: "bold 39px " + SANS, align: 'left', verticalAlign: 'middle' } }
  ];
}

chart.setOption({
  backgroundColor: '#ffffff',
  animation: false,
  grid: grids,
  xAxis: xAxes,
  yAxis: yAxes,
  series: series,
  graphic: [].concat(titleTexts(56, 'a', 'Model 1'), titleTexts(697, 'b', 'Model 2'))
});
</script>
</body>
</html>
